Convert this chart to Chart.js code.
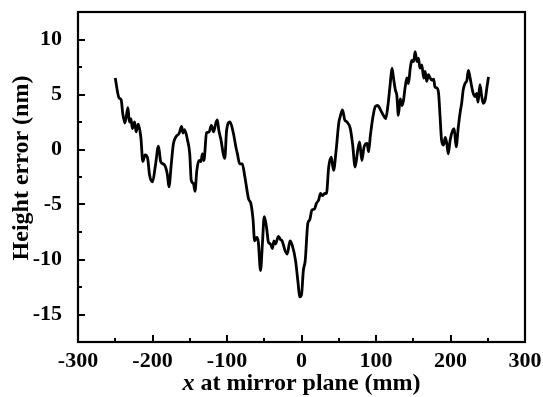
<!DOCTYPE html>
<html>
<head>
<meta charset="utf-8">
<script src="https://cdn.jsdelivr.net/npm/chart.js@4.4.0/dist/chart.umd.min.js"></script>
<style>
  html, body { margin: 0; padding: 0; background: #ffffff; }
  #wrap { width: 543px; height: 397px; }
</style>
</head>
<body>
<div id="wrap"><canvas id="chart" width="543" height="397"></canvas></div>
<script>
// ----------------------------------------------------------------------------
// Dados (perfil de erro de altura ao longo do espelho)
// ----------------------------------------------------------------------------
const xPos = [
  -250, -245, -242, -240, -237, -233, -231, -229, -227, -224, -222, -219, -215.5, -213, -210, -206.5,
  -204, -200, -196, -192, -189, -184, -180, -178, -174.5, -172, -169, -164, -161, -159, -157, -153,
  -150, -148, -145, -143, -140.5, -137.5, -135, -133, -131, -127.5, -124, -121, -118, -115, -113, -111,
  -108, -105, -103, -100.5, -96, -91.5, -88, -86, -83, -79.5, -76, -71, -68, -65, -63, -60, -58, -55,
  -52.5, -50, -47, -44.5, -41.5, -39, -37, -35, -31, -28, -26, -22, -19, -15.5, -12.5, -8, -4.5, -2.5,
  0, 2.5, 5, 8.5, 11, 14, 17.5, 20, 23, 25.5, 28.5, 31, 33.5, 36.5, 40, 43, 46.5, 50, 52, 55, 58, 61,
  65.5, 68.5, 72, 75.5, 78, 81, 84, 88, 90, 92.5, 95.5, 99, 102.5, 106, 110, 113, 116, 119, 121.5, 123.5,
  126, 128, 130, 132.5, 135, 137, 139, 141.5, 143.5, 146, 148, 150.5, 152.5, 155, 157, 159, 161.5, 164,
  166, 168, 170.5, 172, 175, 177.5, 179, 181.5, 184, 186, 188, 190.5, 193, 195, 197, 199.5, 203, 205,
  207.5, 210.5, 213, 215, 217, 219.5, 222, 224, 226, 228.5, 230.5, 233, 235, 237, 239.5, 242, 244, 246.5,
  249, 251
];
const heightErr = [
  6.5, 4.7, 4.5, 3.3, 2.4, 3.8, 2.5, 2.8, 1.9, 2.5, 1.6, 2.3, 1.0, -1.1, -0.5, -0.8,
  -2.3, -2.95, -1.4, 0.3, -1.1, -1.4, -2.3, -3.4, -1.1, 0.5, 1.1, 1.5, 2.1, 1.5, 1.8, 0.85,
  -0.4, -2.8, -3.1, -3.8, -1.9, -1.0, -1.1, -0.4, -1.0, 1.5, 1.6, 2.2, 1.6, 2.4, 2.7, 1.75,
  0.85, -0.4, -0.8, 1.75, 2.5, 1.5, 0.2, -0.4, -1.3, -1.3, -2.5, -4.5, -4.9, -6.4, -8.3, -8.0, -8.4, -11.0,
  -8.6, -6.1, -7.05, -8.4, -8.6, -9.0, -8.3, -8.6, -7.9, -8.2, -8.3, -9.2, -9.5, -8.3, -8.7, -10.1, -12.2, -13.4,
  -13.2, -11.0, -10.1, -6.7, -6.4, -5.5, -5.4, -4.9, -4.6, -4.0, -4.2, -4.0, -4.0, -1.6, -0.7, -1.9, -0.06, 2.4, 3.0, 3.6, 2.7, 2.5,
  1.9, 0.55, -1.6, -0.06, 0.7, -1.0, 0.24, 0.55, -0.2, 1.3, 2.8, 3.9, 4.0, 3.6, 3.1, 2.8, 4.0, 5.9, 7.4, 6.5,
  5.4, 4.9, 3.1, 4.6, 4.0, 4.5, 5.6, 6.5, 6.0, 7.4, 8.1, 8.0, 8.9, 8.0, 8.3, 7.4, 7.7, 6.5,
  7.1, 6.2, 6.8, 6.6, 6.3, 6.4, 5.7, 5.6, 5.1, 3.0, 0.85, 0.4, 1.1, 0.55, -0.4, 0.85, 1.75, 1.9,
  0.24, 2.05, 3.4, 4.2, 5.4, 6.0, 6.3, 7.2, 6.6, 5.7, 5.1, 4.8, 5.1, 4.3, 5.9, 4.8, 4.2, 4.5,
  5.7, 6.6
];

// Marcas dos eixos
const xMajorTicks = [-300, -200, -100, 0, 100, 200, 300];
const xMinorTicks = [-250, -150, -50, 50, 150, 250];
const yMajorTicks = [-15, -10, -5, 0, 5, 10];
const yMinorTicks = [-17.5, -12.5, -7.5, -2.5, 2.5, 7.5, 12.5];

const X_TITLE_ITALIC = 'x';
const X_TITLE_REST = ' at mirror plane (mm)';
const Y_TITLE = 'Height error (nm)';

const FONT_FAMILY = '"Liberation Serif", "Times New Roman", serif';

// ----------------------------------------------------------------------------
// Plugin: moldura, marcas internas (maiores e menores) e títulos dos eixos
// ----------------------------------------------------------------------------
const framePlugin = {
  id: 'frame',
  afterDraw(chart) {
    const ctx = chart.ctx;
    const area = chart.chartArea;
    const xs = chart.scales.x;
    const ys = chart.scales.y;

    ctx.save();
    ctx.strokeStyle = '#000';
    ctx.lineWidth = 2.2;
    ctx.strokeRect(area.left, area.top, area.right - area.left, area.bottom - area.top);

    // marcas para dentro, só nos eixos de baixo e da esquerda
    ctx.lineWidth = 2;
    ctx.beginPath();
    for (const v of xMajorTicks) {
      const px = Math.round(xs.getPixelForValue(v));
      ctx.moveTo(px, area.bottom); ctx.lineTo(px, area.bottom - 7);
    }
    for (const v of xMinorTicks) {
      const px = Math.round(xs.getPixelForValue(v));
      ctx.moveTo(px, area.bottom); ctx.lineTo(px, area.bottom - 4);
    }
    for (const v of yMajorTicks) {
      const py = Math.round(ys.getPixelForValue(v));
      ctx.moveTo(area.left, py); ctx.lineTo(area.left + 7, py);
    }
    for (const v of yMinorTicks) {
      const py = Math.round(ys.getPixelForValue(v));
      ctx.moveTo(area.left, py); ctx.lineTo(area.left + 4, py);
    }
    ctx.stroke();

    // título do eixo x (com "x" em itálico)
    ctx.fillStyle = '#000';
    ctx.textBaseline = 'alphabetic';
    ctx.textAlign = 'left';
    const fItalic = 'italic bold 24px ' + FONT_FAMILY;
    const fBold = 'bold 24px ' + FONT_FAMILY;
    ctx.font = fItalic;
    const w1 = ctx.measureText(X_TITLE_ITALIC).width;
    ctx.font = fBold;
    const w2 = ctx.measureText(X_TITLE_REST).width;
    const cx = (area.left + area.right) / 2;
    const startX = cx - (w1 + w2) / 2;
    ctx.font = fItalic;
    ctx.fillText(X_TITLE_ITALIC, startX, 390);
    ctx.font = fBold;
    ctx.fillText(X_TITLE_REST, startX + w1, 390);

    // título do eixo y
    ctx.translate(22, 168);
    ctx.rotate(-Math.PI / 2);
    ctx.textAlign = 'center';
    ctx.textBaseline = 'middle';
    ctx.font = fBold;
    ctx.fillText(Y_TITLE, 0, 0);
    ctx.restore();
  }
};

const ctx = document.getElementById('chart').getContext('2d');

new Chart(ctx, {
  type: 'line',
  data: {
    datasets: [{
      data: xPos.map((x, i) => ({ x: x, y: heightErr[i] })),
      borderColor: '#000000',
      borderWidth: 2.8,
      pointRadius: 0,
      fill: false,
      cubicInterpolationMode: 'monotone'
    }]
  },
  options: {
    responsive: false,
    devicePixelRatio: 1,
    animation: false,
    layout: { padding: { left: 0, top: 12, right: 18, bottom: 0 } },
    plugins: {
      legend: { display: false },
      tooltip: { enabled: false }
    },
    scales: {
      x: {
        type: 'linear',
        min: -300,
        max: 300,
        afterBuildTicks: s => { s.ticks = xMajorTicks.map(v => ({ value: v })); },
        afterFit: s => { s.height = 55; s.paddingLeft = 0; s.paddingRight = 0; },
        grid: { display: false },
        border: { display: false },
        ticks: {
          color: '#000',
          padding: -2,
          maxRotation: 0,
          font: { family: FONT_FAMILY, size: 22, weight: 'bold' }
        }
      },
      y: {
        type: 'linear',
        min: -17.5,
        max: 12.5,
        afterBuildTicks: s => { s.ticks = yMajorTicks.map(v => ({ value: v })); },
        afterFit: s => { s.width = 78; s.paddingTop = 0; s.paddingBottom = 0; },
        grid: { display: false },
        border: { display: false },
        ticks: {
          color: '#000',
          padding: 8,
          font: { family: FONT_FAMILY, size: 22, weight: 'bold' }
        }
      }
    }
  },
  plugins: [framePlugin]
});
</script>
</body>
</html>
